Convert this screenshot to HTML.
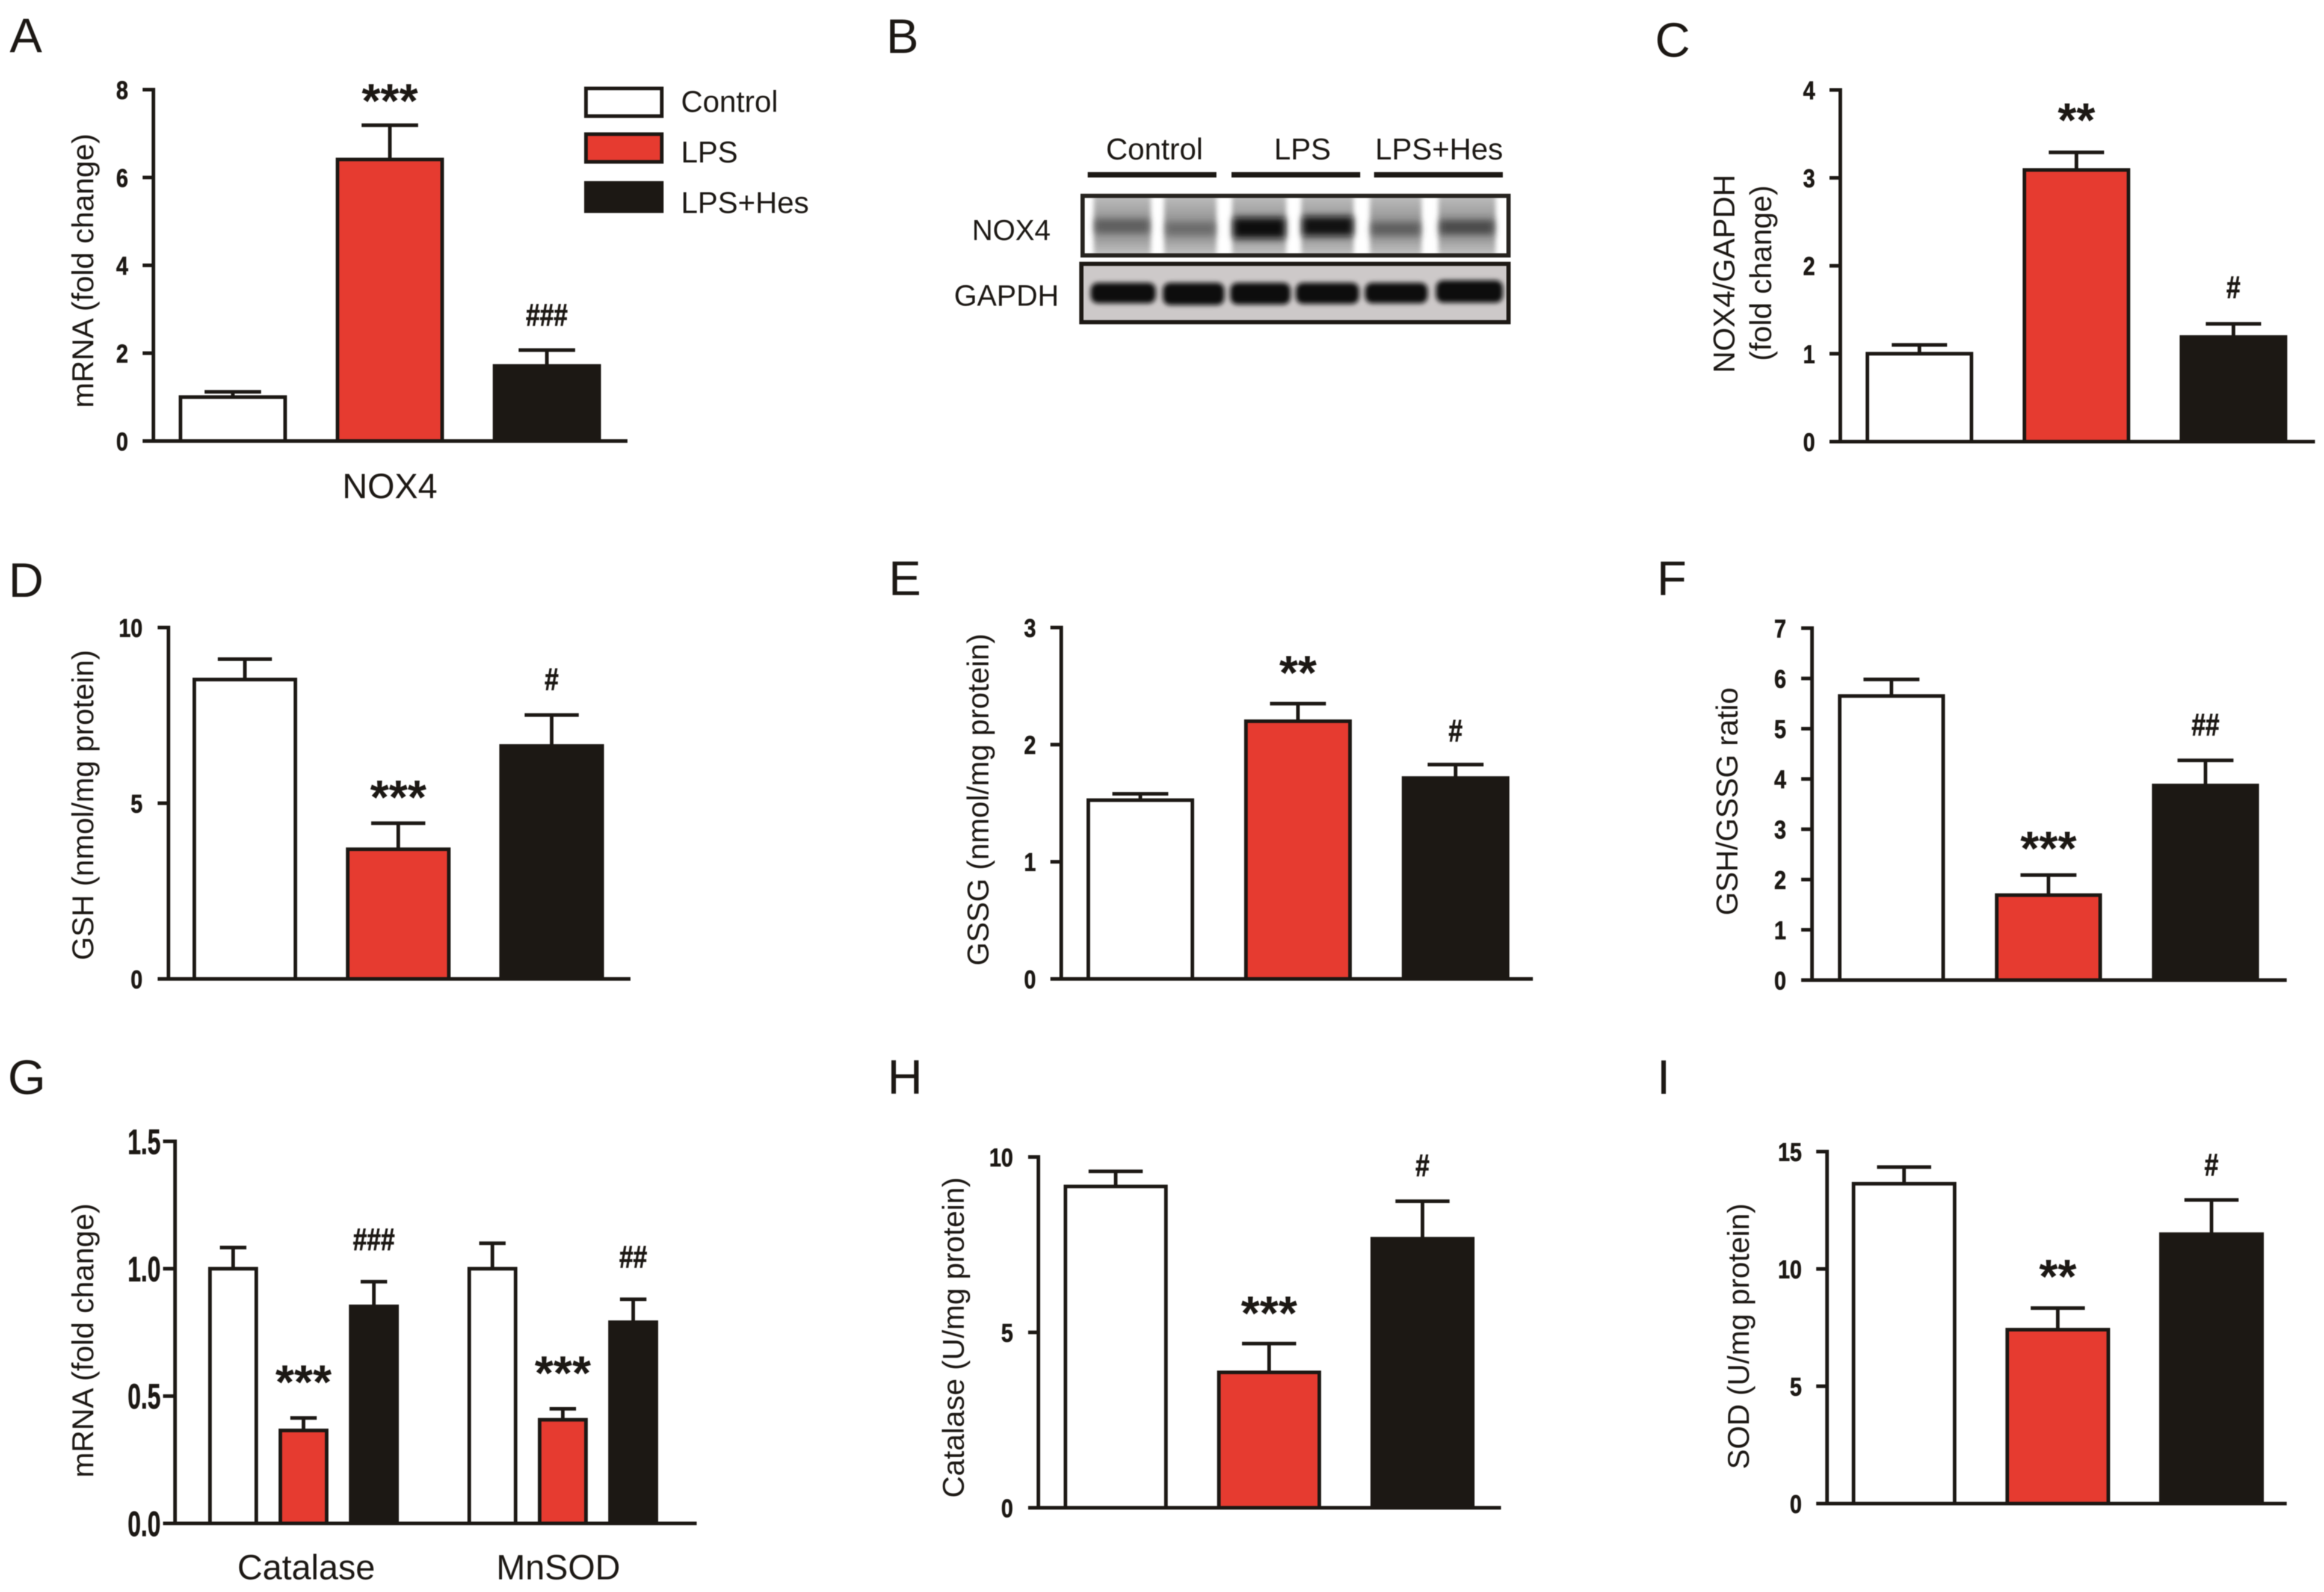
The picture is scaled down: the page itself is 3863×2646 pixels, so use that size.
<!DOCTYPE html>
<html lang="en">
<head>
<meta charset="utf-8">
<title>NOX4, glutathione and antioxidant enzyme panels</title>
<style>
  html, body { margin: 0; padding: 0; background: #fff; }
  #figure { display: block; width: 3863px; height: 2646px; filter: blur(0.8px); }
  text { font-family: "Liberation Sans", sans-serif; fill: #1c1814; }
  .letter { font-size: 81px; }
  .ytitle { font-size: 50px; }
</style>
</head>
<body>
<svg id="figure" xmlns="http://www.w3.org/2000/svg" width="3863" height="2646" viewBox="0 0 3863 2646">
  <defs>
    <filter id="blurLane" x="-20%" y="-20%" width="140%" height="140%"><feGaussianBlur stdDeviation="4"/></filter>
    <filter id="blurBand" x="-20%" y="-60%" width="140%" height="220%"><feGaussianBlur stdDeviation="6"/></filter>
    <filter id="blurGapdh" x="-20%" y="-60%" width="140%" height="220%"><feGaussianBlur stdDeviation="4"/></filter>
    <linearGradient id="laneGrad" x1="0" y1="0" x2="0" y2="1">
      <stop offset="0" stop-color="#c0c0c0"/>
      <stop offset="0.5" stop-color="#8e8e8e"/>
      <stop offset="0.75" stop-color="#a0a0a0"/>
      <stop offset="1" stop-color="#c6c6c6"/>
    </linearGradient>
    <clipPath id="clipNox"><rect x="1805" y="329" width="701" height="92"/></clipPath>
  </defs>
  <rect width="3863" height="2646" fill="#ffffff"/>

  <g transform="translate(-2,0)">
  <text class="letter" x="18" y="87">A</text>
  <text class="letter" x="1475" y="88">B</text>
  <text class="letter" x="2753" y="94">C</text>
  <text class="letter" x="16" y="992">D</text>
  <text class="letter" x="1479" y="989">E</text>
  <text class="letter" x="2756" y="989">F</text>
  <text class="letter" x="15" y="1818">G</text>
  <text class="letter" x="1477" y="1818">H</text>
  <text class="letter" x="2756" y="1818">I</text>

  <text class="ytitle" transform="translate(157,450) rotate(-90)" text-anchor="middle" textLength="456" lengthAdjust="spacingAndGlyphs">mRNA (fold change)</text>
  <text class="ytitle" transform="translate(2885,455) rotate(-90)" text-anchor="middle" textLength="330" lengthAdjust="spacingAndGlyphs">NOX4/GAPDH</text>
  <text class="ytitle" transform="translate(2946,454) rotate(-90)" text-anchor="middle" textLength="292" lengthAdjust="spacingAndGlyphs">(fold change)</text>
  <text class="ytitle" transform="translate(157,1338) rotate(-90)" text-anchor="middle" textLength="516" lengthAdjust="spacingAndGlyphs">GSH (nmol/mg protein)</text>
  <text class="ytitle" transform="translate(1645,1329) rotate(-90)" text-anchor="middle" textLength="552" lengthAdjust="spacingAndGlyphs">GSSG (nmol/mg protein)</text>
  <text class="ytitle" transform="translate(2890,1332) rotate(-90)" text-anchor="middle" textLength="379" lengthAdjust="spacingAndGlyphs">GSH/GSSG ratio</text>
  <text class="ytitle" transform="translate(157,2228) rotate(-90)" text-anchor="middle" textLength="456" lengthAdjust="spacingAndGlyphs">mRNA (fold change)</text>
  <text class="ytitle" transform="translate(1604,2223) rotate(-90)" text-anchor="middle" textLength="533" lengthAdjust="spacingAndGlyphs">Catalase (U/mg protein)</text>
  <text class="ytitle" transform="translate(2909,2221) rotate(-90)" text-anchor="middle" textLength="442" lengthAdjust="spacingAndGlyphs">SOD (U/mg protein)</text>

  <text x="650" y="828" font-size="58" text-anchor="middle">NOX4</text>
  <text x="511" y="2625" font-size="58" text-anchor="middle">Catalase</text>
  <text x="930" y="2625" font-size="58" text-anchor="middle">MnSOD</text>

  <g>
    <rect x="976" y="147" width="126" height="46" fill="#ffffff" stroke="#1c1814" stroke-width="6"/>
    <rect x="976" y="223" width="126" height="46" fill="#e63b30" stroke="#1c1814" stroke-width="6"/>
    <rect x="976" y="304" width="126" height="47" fill="#1c1814" stroke="#1c1814" stroke-width="6"/>
    <text x="1134" y="186" font-size="50">Control</text>
    <text x="1134" y="270" font-size="50">LPS</text>
    <text x="1134" y="354" font-size="50">LPS+Hes</text>
  </g>

  <g>
    <text x="1921" y="265" font-size="50" text-anchor="middle">Control</text>
    <text x="2167" y="265" font-size="50" text-anchor="middle">LPS</text>
    <text x="2394" y="265" font-size="50" text-anchor="middle">LPS+Hes</text>
    <rect x="1810" y="286" width="214" height="9" fill="#1c1814"/>
    <rect x="2049" y="286" width="214" height="9" fill="#1c1814"/>
    <rect x="2286" y="286" width="214" height="9" fill="#1c1814"/>
    <text x="1683" y="399" font-size="48" text-anchor="middle">NOX4</text>
    <text x="1675" y="508" font-size="49" text-anchor="middle">GAPDH</text>

    <rect x="1801" y="325" width="709" height="100" fill="#ffffff"/>
    <g clip-path="url(#clipNox)">
      <g filter="url(#blurLane)">
        <rect x="1820" y="322" width="95" height="104" fill="url(#laneGrad)"/>
        <rect x="1937" y="322" width="87" height="104" fill="url(#laneGrad)"/>
        <rect x="2050" y="322" width="90" height="104" fill="url(#laneGrad)"/>
        <rect x="2165" y="322" width="87" height="104" fill="url(#laneGrad)"/>
        <rect x="2279" y="322" width="86" height="104" fill="url(#laneGrad)"/>
        <rect x="2393" y="322" width="95" height="104" fill="url(#laneGrad)"/>
      </g>
      <g filter="url(#blurBand)">
        <rect x="1822" y="364" width="90" height="24" fill="#4a4a4a" opacity="0.7"/>
        <rect x="1940" y="370" width="82" height="22" fill="#4a4a4a" opacity="0.55"/>
        <rect x="2052" y="362" width="86" height="34" fill="#0c0c0c"/>
        <rect x="2167" y="360" width="84" height="32" fill="#0c0c0c" opacity="0.97"/>
        <rect x="2281" y="370" width="82" height="22" fill="#404040" opacity="0.65"/>
        <rect x="2395" y="366" width="90" height="24" fill="#303030" opacity="0.75"/>
      </g>
    </g>
    <rect x="1801.5" y="325.5" width="708" height="99" fill="none" stroke="#26231f" stroke-width="7"/>

    <rect x="1799" y="438" width="711" height="98" fill="#cdc9c9"/>
    <g filter="url(#blurGapdh)">
      <rect x="1815" y="470" width="108" height="34" rx="12" fill="#0e0e0e"/>
      <rect x="1935" y="470" width="102" height="37" rx="12" fill="#0e0e0e"/>
      <rect x="2047" y="470" width="100" height="36" rx="12" fill="#0e0e0e"/>
      <rect x="2156" y="470" width="105" height="35" rx="12" fill="#0e0e0e"/>
      <rect x="2271" y="470" width="104" height="34" rx="12" fill="#0e0e0e"/>
      <rect x="2389" y="466" width="111" height="37" rx="12" fill="#0e0e0e"/>
    </g>
    <rect x="1799.5" y="438.5" width="710" height="97" fill="none" stroke="#1c1814" stroke-width="7"/>
  </g>

  <g id="charts"></g>
  </g>
</svg>

<script>
// Data
const groupNames = ["Control", "LPS", "LPS+Hes"];

const panelATicks = [0, 2, 4, 6, 8];
const panelAMeans = [1.0, 6.41, 1.71];
const panelASem = [0.12, 0.78, 0.36];
const panelASig = ["", "***", "###"];

const panelCTicks = [0, 1, 2, 3, 4];
const panelCMeans = [1.0, 3.09, 1.19];
const panelCSem = [0.10, 0.20, 0.15];
const panelCSig = ["", "**", "#"];

const panelDTicks = [0, 5, 10];
const panelDMeans = [8.52, 3.69, 6.63];
const panelDSem = [0.58, 0.74, 0.88];
const panelDSig = ["", "***", "#"];

const panelETicks = [0, 1, 2, 3];
const panelEMeans = [1.526, 2.20, 1.715];
const panelESem = [0.054, 0.15, 0.115];
const panelESig = ["", "**", "#"];

const panelFTicks = [0, 1, 2, 3, 4, 5, 6, 7];
const panelFMeans = [5.65, 1.69, 3.87];
const panelFSem = [0.33, 0.40, 0.50];
const panelFSig = ["", "***", "##"];

const panelGTicks = [0.0, 0.5, 1.0, 1.5];
const panelGCatalaseMeans = [1.0, 0.365, 0.852];
const panelGCatalaseSem = [0.083, 0.049, 0.097];
const panelGCatalaseSig = ["", "***", "###"];
const panelGMnSODMeans = [1.0, 0.407, 0.79];
const panelGMnSODSem = [0.10, 0.043, 0.09];
const panelGMnSODSig = ["", "***", "##"];

const panelHTicks = [0, 5, 10];
const panelHMeans = [9.16, 3.86, 7.67];
const panelHSem = [0.43, 0.82, 1.07];
const panelHSig = ["", "***", "#"];

const panelITicks = [0, 5, 10, 15];
const panelIMeans = [13.63, 7.41, 11.48];
const panelISem = [0.71, 0.92, 1.46];
const panelISig = ["", "**", "#"];

const INK = "#1c1814";
const FILLS = ["#ffffff", "#e63b30", INK];
const SVG_NS = "http://www.w3.org/2000/svg";
const root = document.getElementById("charts");

function create(parent, tag, attrs, name, text) {
  const el = document.createElementNS(SVG_NS, tag);
  for (const k in attrs) el.setAttribute(k, attrs[k]);
  
  
  if (text !== undefined) el.textContent = text;
  parent.appendChild(el);
  return el;
}

function drawPanel(p) {
  const g = create(root, "g", {}, "panel-" + p.id + "-chart");
  const yScale = v => p.base - (v / p.max) * (p.base - p.top);
  const xScale = (group, i) => p.barStart + group * (p.groupStep || 0) + i * p.barStep;
  const tickSize = p.tickFont || 43;
  const tickSx = p.tickScale || 0.83;

  p.groups.forEach((grp, gi) => {
    grp.means.forEach((mean, i) => {
      const left = xScale(gi, i);
      const cx = left + p.barWidth / 2;
      const yTop = yScale(mean);
      const yCap = yScale(mean + grp.sem[i]);
      const series = groupNames[i].toLowerCase().replace("+", "-");
      const suffix = (grp.key ? grp.key + "-" : "") + series;

      create(g, "line", { x1: cx, x2: cx, y1: yTop, y2: yCap, stroke: INK, "stroke-width": 6 },
        "panel-" + p.id + "-error-stem-" + suffix);
      create(g, "line", { x1: cx - p.capWidth / 2, x2: cx + p.capWidth / 2, y1: yCap, y2: yCap, stroke: INK, "stroke-width": 6 },
        "panel-" + p.id + "-error-cap-" + suffix);
      create(g, "rect", { x: left + 3, y: yTop, width: p.barWidth - 6, height: p.base - yTop, fill: FILLS[i], stroke: INK, "stroke-width": 6 },
        "panel-" + p.id + "-bar-" + suffix);

      const sig = grp.sig[i];
      if (sig) {
        const star = sig[0] === "*";
        const gap = star ? p.starGap : p.hashGap;
        const cy = yCap - gap;
        if (star) {
          create(g, "text", { x: cx, y: cy + 37, "font-size": 80, "font-weight": "bold", "text-anchor": "middle" },
            "panel-" + p.id + "-significance-" + suffix, sig);
        } else {
          create(g, "text", { transform: "translate(" + cx + "," + (cy + 16) + ") scale(0.8,1)", "font-size": 52, "font-weight": "bold", "text-anchor": "middle", stroke: INK, "stroke-width": 1 },
            "panel-" + p.id + "-significance-" + suffix, sig);
        }
      }
    });
  });

  create(g, "line", { x1: p.axisX, x2: p.axisX, y1: yScale(p.max) - 3, y2: p.base + 3, stroke: INK, "stroke-width": 6 },
    "panel-" + p.id + "-y-axis");
  create(g, "line", { x1: p.tickLeft, x2: p.right, y1: p.base, y2: p.base, stroke: INK, "stroke-width": 6 },
    "panel-" + p.id + "-x-axis");

  p.ticks.forEach(v => {
    const y = yScale(v);
    create(g, "line", { x1: p.tickLeft, x2: p.axisX, y1: y, y2: y, stroke: INK, "stroke-width": 6 },
      "panel-" + p.id + "-y-tick-" + v);
    const label = v.toFixed(p.decimals || 0);
    create(g, "text", {
      transform: "translate(" + (p.axisX - p.labelGap) + "," + (y + tickSize * 0.358) + ") scale(" + tickSx + ",1)",
      "font-size": tickSize, "font-weight": "bold", "text-anchor": "end", stroke: INK, "stroke-width": 0.8
    }, "panel-" + p.id + "-y-tick-label-" + v, label);
  });
}

drawPanel({ id: "a", axisX: 257, top: 149, base: 733, tickLeft: 239, right: 1045, max: 8, labelGap: 42,
  barStart: 299, barStep: 261, barWidth: 180, capWidth: 94, starGap: 50, hashGap: 57, ticks: panelATicks,
  groups: [{ means: panelAMeans, sem: panelASem, sig: panelASig }] });

drawPanel({ id: "c", axisX: 3061, top: 149.5, base: 734, tickLeft: 3043, right: 3850, max: 4, labelGap: 42,
  barStart: 3103, barStep: 261, barWidth: 179, capWidth: 92, starGap: 63, hashGap: 59, ticks: panelCTicks,
  groups: [{ means: panelCMeans, sem: panelCSem, sig: panelCSig }] });

drawPanel({ id: "d", axisX: 282, top: 1043, base: 1627, tickLeft: 264, right: 1050, max: 10, labelGap: 43,
  barStart: 322, barStep: 255, barWidth: 174, capWidth: 90, starGap: 53, hashGap: 58, ticks: panelDTicks,
  groups: [{ means: panelDMeans, sem: panelDSem, sig: panelDSig }] });

drawPanel({ id: "e", axisX: 1766, top: 1043, base: 1627, tickLeft: 1748, right: 2550, max: 3, labelGap: 42,
  barStart: 1808, barStep: 262, barWidth: 179, capWidth: 93, starGap: 61, hashGap: 55, ticks: panelETicks,
  groups: [{ means: panelEMeans, sem: panelESem, sig: panelESig }] });

drawPanel({ id: "f", axisX: 3014, top: 1044, base: 1629, tickLeft: 2996, right: 3803, max: 7, labelGap: 43,
  barStart: 3057, barStep: 261, barWidth: 178, capWidth: 93, starGap: 54, hashGap: 58, ticks: panelFTicks,
  groups: [{ means: panelFMeans, sem: panelFSem, sig: panelFSig }] });

drawPanel({ id: "g", axisX: 293, top: 1897, base: 2532, tickLeft: 273, right: 1160, max: 1.5, labelGap: 24,
  barStart: 348, barStep: 117, barWidth: 83, groupStep: 431, capWidth: 44, starGap: 69, hashGap: 69,
  tickFont: 58, tickScale: 0.68, decimals: 1, ticks: panelGTicks,
  groups: [
    { key: "catalase", means: panelGCatalaseMeans, sem: panelGCatalaseSem, sig: panelGCatalaseSig },
    { key: "mnsod", means: panelGMnSODMeans, sem: panelGMnSODSem, sig: panelGMnSODSig }
  ] });

drawPanel({ id: "h", axisX: 1728, top: 1923, base: 2506, tickLeft: 1711, right: 2497, max: 10, labelGap: 42,
  barStart: 1770, barStep: 255, barWidth: 173, capWidth: 90, starGap: 60, hashGap: 58, ticks: panelHTicks,
  groups: [{ means: panelHMeans, sem: panelHSem, sig: panelHSig }] });

drawPanel({ id: "i", axisX: 3039, top: 1914, base: 2499, tickLeft: 3021, right: 3803, max: 15, labelGap: 42,
  barStart: 3080, barStep: 255.5, barWidth: 174, capWidth: 90, starGap: 62, hashGap: 57, ticks: panelITicks,
  groups: [{ means: panelIMeans, sem: panelISem, sig: panelISig }] });
</script>
</body>
</html>
